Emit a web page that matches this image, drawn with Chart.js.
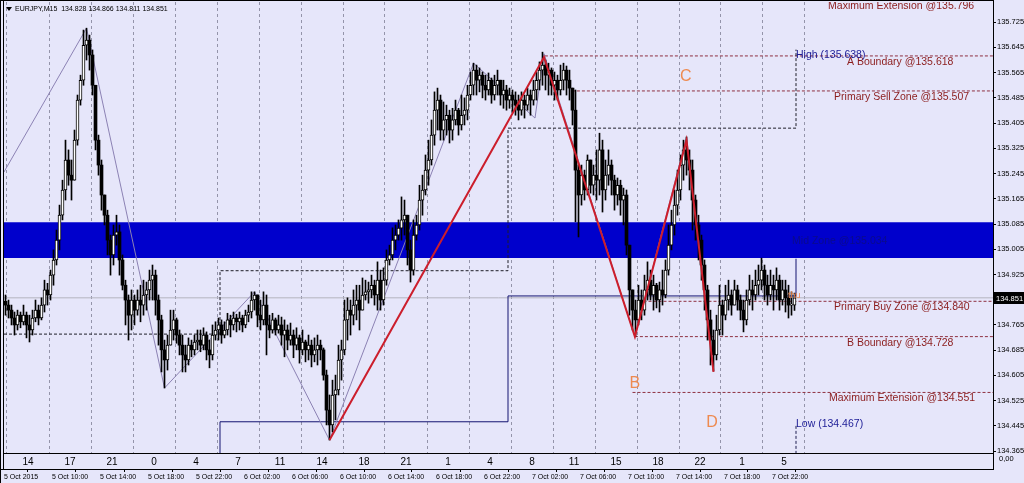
<!DOCTYPE html>
<html><head><meta charset="utf-8">
<script src="https://cdn.jsdelivr.net/npm/chart.js@4.4.0/dist/chart.umd.min.js"></script>
<style>html,body{margin:0;padding:0;background:#E6E6FA;overflow:hidden}canvas{display:block}</style>
</head><body><canvas id="c" width="1024" height="483" style="width:1024px;height:483px"></canvas>
<script>
// ---- data (EURJPY M15) ----
const symbolTitle = 'EURJPY,M15';
const firstOpen = 134.840;
const closes = [
134.828,134.812,134.787,134.765,134.796,134.775,134.796,134.765,134.749,134.787,134.812,134.787,
134.828,134.876,134.860,134.923,134.971,135.034,135.113,135.193,135.288,135.240,135.224,135.351,
135.478,135.541,135.652,135.668,135.621,135.525,135.351,135.272,135.177,135.113,135.034,134.987,
135.050,135.060,134.971,134.891,134.844,134.796,134.844,134.812,134.844,134.828,134.860,134.876,
134.907,134.923,134.844,134.781,134.686,134.654,134.701,134.749,134.781,134.733,134.701,134.670,
134.654,134.701,134.686,134.711,134.717,134.701,134.733,134.686,134.670,134.733,134.749,134.765,
134.733,134.749,134.781,134.765,134.787,134.775,134.787,134.765,134.796,134.806,134.844,134.860,
134.796,134.781,134.828,134.765,134.749,134.781,134.749,134.765,134.733,134.749,134.717,134.733,
134.701,134.724,134.686,134.711,134.686,134.701,134.670,134.686,134.701,134.686,134.606,134.495,
134.448,134.543,134.559,134.654,134.686,134.781,134.812,134.796,134.828,134.844,134.812,134.860,
134.870,134.876,134.891,134.860,134.907,134.844,134.907,134.971,134.987,135.034,135.050,135.072,
135.098,135.113,135.003,134.939,135.050,135.082,135.161,135.193,135.256,135.288,135.367,135.446,
135.478,135.383,135.415,135.430,135.383,135.415,135.446,135.399,135.430,135.446,135.494,135.525,
135.573,135.541,135.557,135.525,135.510,135.541,135.494,135.525,135.541,135.494,135.510,135.478,
135.494,135.478,135.462,135.446,135.478,135.462,135.494,135.478,135.510,135.541,135.573,135.589,
135.557,135.573,135.525,135.541,135.510,135.541,135.573,135.541,135.516,135.446,135.256,135.177,
135.240,135.193,135.288,135.208,135.240,135.224,135.320,135.193,135.240,135.272,135.224,135.177,
135.208,135.161,135.177,135.018,134.876,134.812,134.781,134.844,134.812,134.876,134.907,134.860,
134.891,134.844,134.876,134.860,134.939,135.018,135.082,135.145,135.193,135.272,135.320,135.288,
135.256,135.161,135.082,135.034,134.955,134.876,134.781,134.717,134.670,134.749,134.828,134.796,
134.844,134.860,134.828,134.876,134.844,134.812,134.781,134.844,134.876,134.860,134.891,134.907,
134.939,134.891,134.860,134.891,134.876,134.907,134.844,134.876,134.851,134.828,134.828,134.851];
const highs = [
134.860,134.844,134.828,134.806,134.812,134.806,134.828,134.806,134.796,134.812,134.844,134.828,
134.851,134.907,134.897,134.939,135.003,135.066,135.145,135.224,135.351,135.320,135.288,135.383,
135.494,135.557,135.700,135.706,135.684,135.637,135.525,135.367,135.288,135.177,135.129,135.050,
135.082,135.113,135.082,134.987,134.907,134.860,134.876,134.860,134.876,134.891,134.907,134.901,
134.939,134.955,134.939,134.860,134.796,134.717,134.733,134.812,134.812,134.787,134.749,134.733,
134.701,134.724,134.717,134.733,134.749,134.749,134.756,134.743,134.717,134.765,134.775,134.787,
134.781,134.775,134.802,134.796,134.806,134.799,134.806,134.796,134.812,134.828,134.870,134.870,
134.860,134.844,134.870,134.860,134.796,134.802,134.787,134.796,134.790,134.781,134.765,134.771,
134.749,134.756,134.733,134.749,134.717,134.733,134.717,134.724,134.733,134.717,134.692,134.622,
134.543,134.590,134.606,134.701,134.717,134.844,134.851,134.844,134.876,134.891,134.891,134.914,
134.907,134.901,134.923,134.907,134.965,134.939,134.946,135.003,135.018,135.073,135.082,135.098,
135.171,135.161,135.113,135.034,135.098,135.113,135.208,135.240,135.304,135.351,135.415,135.504,
135.516,135.494,135.472,135.462,135.446,135.452,135.478,135.452,135.494,135.485,135.525,135.567,
135.595,135.589,135.580,135.567,135.557,135.564,135.548,135.557,135.573,135.541,135.541,135.525,
135.516,135.510,135.504,135.494,135.504,135.494,135.516,135.510,135.541,135.567,135.599,135.630,
135.605,135.595,135.580,135.567,135.557,135.589,135.595,135.586,135.573,135.516,135.510,135.272,
135.272,135.256,135.304,135.288,135.272,135.320,135.373,135.351,135.288,135.320,135.288,135.240,
135.231,135.224,135.199,135.193,135.018,134.876,134.844,134.891,134.876,134.923,134.965,134.939,
134.923,134.897,134.901,134.939,134.971,135.082,135.129,135.193,135.256,135.304,135.351,135.361,
135.320,135.288,135.177,135.113,135.050,134.971,134.891,134.812,134.749,134.796,134.891,134.844,
134.891,134.907,134.876,134.907,134.891,134.860,134.844,134.876,134.923,134.907,134.939,134.955,
134.977,134.955,134.923,134.939,134.923,134.946,134.923,134.907,134.907,134.891,134.870,134.866];
const lows = [
134.796,134.787,134.765,134.733,134.749,134.756,134.765,134.724,134.711,134.733,134.775,134.765,
134.781,134.806,134.828,134.844,134.891,134.955,135.003,135.098,135.161,135.208,135.161,135.224,
135.335,135.462,135.525,135.605,135.573,135.494,135.320,135.240,135.129,135.082,134.987,134.923,
134.955,135.018,134.923,134.876,134.765,134.717,134.749,134.765,134.796,134.775,134.796,134.812,
134.844,134.844,134.796,134.701,134.616,134.565,134.622,134.701,134.717,134.707,134.670,134.616,
134.616,134.638,134.664,134.670,134.686,134.680,134.686,134.654,134.629,134.654,134.717,134.717,
134.707,134.724,134.733,134.727,134.749,134.743,134.749,134.743,134.756,134.775,134.787,134.812,
134.759,134.749,134.765,134.670,134.724,134.739,134.733,134.739,134.701,134.664,134.686,134.701,
134.661,134.686,134.644,134.670,134.648,134.654,134.632,134.648,134.638,134.654,134.590,134.448,
134.400,134.426,134.464,134.543,134.590,134.670,134.717,134.733,134.765,134.781,134.749,134.828,
134.844,134.834,134.851,134.828,134.812,134.812,134.828,134.891,134.955,134.971,135.003,135.034,
135.034,135.050,134.955,134.901,134.923,135.034,135.066,135.113,135.177,135.208,135.272,135.335,
135.383,135.351,135.351,135.367,135.342,135.351,135.399,135.367,135.383,135.399,135.415,135.478,
135.494,135.494,135.504,135.485,135.478,135.494,135.468,135.478,135.494,135.462,135.452,135.446,
135.452,135.440,135.430,135.415,135.430,135.421,135.446,135.430,135.462,135.478,135.510,135.525,
135.510,135.494,135.494,135.478,135.478,135.494,135.510,135.494,135.478,135.399,135.092,135.044,
135.145,135.161,135.177,135.183,135.177,135.161,135.177,135.123,135.161,135.208,135.177,135.129,
135.145,135.113,135.082,134.987,134.796,134.749,134.728,134.765,134.781,134.796,134.844,134.844,
134.812,134.819,134.806,134.828,134.851,134.923,135.003,135.050,135.113,135.161,135.224,135.240,
135.193,135.066,135.034,134.971,134.907,134.812,134.717,134.638,134.619,134.654,134.733,134.733,
134.781,134.812,134.796,134.828,134.812,134.781,134.743,134.765,134.828,134.812,134.844,134.860,
134.876,134.844,134.828,134.844,134.812,134.844,134.812,134.828,134.806,134.787,134.796,134.811];

const hourLabels = ['14','17','21','0','4','7','11','14','18','21','1','4','8','11','15','18','22','1','5'];
const dateLabels = ['5 Oct 2015','5 Oct 10:00','5 Oct 14:00','5 Oct 18:00','5 Oct 22:00','6 Oct 02:00','6 Oct 06:00',
  '6 Oct 10:00','6 Oct 14:00','6 Oct 18:00','6 Oct 22:00','7 Oct 02:00','7 Oct 06:00','7 Oct 10:00','7 Oct 14:00',
  '7 Oct 18:00','7 Oct 22:00'];
const priceTicks = [135.725,135.645,135.565,135.485,135.405,135.325,135.245,135.165,135.085,135.005,134.925,134.845,
  134.765,134.685,134.605,134.525,134.445,134.365];
const lastPrice = 134.851;

// supply/demand band
const bandTop = 135.091, bandBottom = 134.977;
const bandLabel = 'Mid Zone @135.034';

// harmonic levels
const zoneNames = ['Maximum Extension','A Boundary','Primary Sell Zone','Primary Buy Zone','B Boundary','Maximum Extension'];
const zoneValues = [135.796,135.618,135.507,134.840,134.728,134.551];
const zoneStartIdx = [180,179.8,188.8,211,209.8,209];
const zoneTextIdx = [274.2,280.5,276.2,276.2,280.5,274.5];

// zigzag swing points (bar index, price)
const zigIdx = [-0.5,27,53,83,108,156,176.5,179.5,209.8,227,236];
const zigPrice = [135.250,135.706,134.565,134.870,134.400,135.595,135.421,135.625,134.728,135.361,134.619];
// XABCD pattern line
const patIdx = [108,179.5,209.8,227,236];
const patPrice = [134.400,135.614,134.728,135.351,134.616];
const letterText = ['C','B','D'];
const letterIdx = [226.8,209.8,235.5];
const letterPrice = [135.554,134.578,134.454];

// channel steps
const upIdx = [-0.5,71.5,167.5,263.5];
const upPrice = [134.736,134.937,135.389,135.638];
const dnIdx = [71.5,71.5,167.5,263.5];
const dnPrice = [134.300,134.458,134.857,134.975];
const highValue = 135.638, lowValue = 134.467, hlIdx = 263.5;

// ---- build ----
const N = closes.length;
const opens = closes.map((c, i) => i === 0 ? firstOpen : closes[i - 1]);
const wick = [], bull = [], bear = [];
for (let i = 0; i < N; i++) {
  const o = opens[i], c = closes[i];
  const h = Math.max(highs[i], o, c), l = Math.min(lows[i], o, c);
  wick.push({x: i, y: [l, h]});
  if (c >= o) bull.push({x: i, y: [o, c]}); else bear.push({x: i, y: [c, o]});
}
const XMIN = -0.5, XMAX = -0.5 + 989 / 3;
const YMIN = 134.359, YMAX = 135.789;

const line = (data, color, width, dash, order, extra) => Object.assign({
  type: 'line', data, borderColor: color, borderWidth: width, borderDash: dash || [],
  pointRadius: 0, fill: false, tension: 0, order, xAxisID: 'x', yAxisID: 'y'
}, extra || {});

const datasets = [];
datasets.push(line([{x: XMIN, y: bandTop}, {x: XMAX, y: bandTop}], 'rgba(0,0,0,0)', 0, null, 100,
  {fill: {value: bandBottom}, backgroundColor: '#0000CC'}));
datasets.push(line([{x: XMIN, y: lastPrice}, {x: XMAX, y: lastPrice}], '#B4B4BE', 1, null, 90));
zoneValues.forEach((v, k) => {
  datasets.push(line([{x: zoneStartIdx[k], y: v}, {x: XMAX, y: v}], '#8E3040', 1, [3, 2], 80));
});
datasets.push(line(upIdx.map((x, k) => ({x, y: upPrice[k]})), '#1E1E28', 1, [3, 2], 70, {stepped: 'before'}));
datasets.push(line([{x: hlIdx, y: 134.445}, {x: hlIdx, y: 134.30}], '#1E1E50', 1, [3, 2], 70));
datasets.push(line(dnIdx.map((x, k) => ({x, y: dnPrice[k]})), '#141470', 1, null, 70, {stepped: 'before'}));
datasets.push(line(zigIdx.map((x, k) => ({x, y: zigPrice[k]})), '#8C82B4', 1, null, 60));
const barBase = {type: 'bar', grouped: false, xAxisID: 'x', yAxisID: 'y', borderSkipped: false};
datasets.push(Object.assign({}, barBase, {data: wick, barThickness: 1, backgroundColor: '#000', borderWidth: 0, order: 50}));
datasets.push(Object.assign({}, barBase, {data: bull, barThickness: 3, backgroundColor: '#FFFFFF', borderColor: '#000', borderWidth: 1, minBarLength: 1, order: 40}));
datasets.push(Object.assign({}, barBase, {data: bear, barThickness: 3, backgroundColor: '#000', borderWidth: 0, minBarLength: 1, order: 40}));
datasets.push(line(patIdx.map((x, k) => ({x, y: patPrice[k]})), '#CC1E2C', 2, null, 10));

const FONT = '"Liberation Sans", Arial, sans-serif';
const noPad = ax => { ax.paddingTop = 0; ax.paddingBottom = 0; ax.paddingLeft = 0; ax.paddingRight = 0; };

const overlay = {
  id: 'overlay',
  beforeDraw(chart) {
    const ctx = chart.ctx; ctx.save(); ctx.fillStyle = '#E6E6FA'; ctx.fillRect(0, 0, chart.width, chart.height); ctx.restore();
  },
  afterDatasetsDraw(chart) {
    const {ctx, chartArea: a} = chart; const x = chart.scales.x, y = chart.scales.y;
    ctx.save();
    ctx.beginPath(); ctx.rect(a.left, a.top, a.right - a.left, a.bottom - a.top); ctx.clip();
    ctx.textBaseline = 'middle'; ctx.textAlign = 'left';
    ctx.font = '10.5px ' + FONT; ctx.fillStyle = '#8B1C1C';
    zoneNames.forEach((n, k) => ctx.fillText(n + ' @' + zoneValues[k].toFixed(3), x.getPixelForValue(zoneTextIdx[k]), y.getPixelForValue(zoneValues[k]) + 6));
    ctx.font = '10.5px ' + FONT; ctx.fillStyle = '#1C1C96';
    ctx.fillText('High (' + highValue.toFixed(3) + ')', x.getPixelForValue(hlIdx), y.getPixelForValue(highValue) + 5);
    ctx.fillText('Low (' + lowValue.toFixed(3) + ')', x.getPixelForValue(hlIdx), y.getPixelForValue(lowValue) + 5);
    ctx.fillStyle = '#0A0A8C';
    ctx.fillText(bandLabel, x.getPixelForValue(262.2), y.getPixelForValue((bandTop + bandBottom) / 2) + 1);
    ctx.font = '16px ' + FONT; ctx.fillStyle = '#EE8A50'; ctx.textAlign = 'center';
    letterText.forEach((t, k) => ctx.fillText(t, x.getPixelForValue(letterIdx[k]), y.getPixelForValue(letterPrice[k])));
    ctx.font = '9px ' + FONT; ctx.textAlign = 'left';
    ctx.fillText('thu', x.getPixelForValue(260.8), y.getPixelForValue(134.857));
    ctx.restore();
  },
  afterDraw(chart) {
    const {ctx} = chart; const y = chart.scales.y;
    ctx.save();
    ctx.strokeStyle = '#000'; ctx.lineWidth = 1;
    ctx.beginPath();
    ctx.moveTo(0.5, 0); ctx.lineTo(0.5, 483);
    ctx.moveTo(3.5, 0); ctx.lineTo(3.5, 469);
    ctx.moveTo(0, 0.5); ctx.lineTo(994, 0.5);
    ctx.moveTo(993.5, 0); ctx.lineTo(993.5, 470);
    ctx.moveTo(3, 453.5); ctx.lineTo(994, 453.5);
    ctx.moveTo(0, 469.5); ctx.lineTo(994, 469.5);
    ctx.stroke();
    // current price box
    const py = Math.round(y.getPixelForValue(lastPrice));
    ctx.fillStyle = '#000'; ctx.fillRect(994, py - 6, 30, 12);
    ctx.fillStyle = '#FFF'; ctx.font = '7.5px ' + FONT; ctx.textBaseline = 'middle'; ctx.textAlign = 'left';
    ctx.fillText(lastPrice.toFixed(3), 996, py + 0.5);
    // title
    ctx.fillStyle = '#000';
    ctx.beginPath(); ctx.moveTo(6, 7); ctx.lineTo(12, 7); ctx.lineTo(9, 11); ctx.closePath(); ctx.fill();
    ctx.font = '7px ' + FONT;
    const o = opens[N - 1], h = Math.max(highs[N - 1], o, closes[N - 1]), l = Math.min(lows[N - 1], o, closes[N - 1]);
    ctx.fillText(symbolTitle + '  ' + o.toFixed(3) + ' ' + h.toFixed(3) + ' ' + l.toFixed(3) + ' ' + closes[N - 1].toFixed(3), 15, 9);
    ctx.font = '7.5px ' + FONT;
    ctx.fillText('0,00', 999, 459);
    ctx.restore();
  }
};

new Chart(document.getElementById('c'), {
  type: 'bar',
  data: {datasets},
  options: {
    responsive: false, animation: false, events: [],
    layout: {padding: {left: 4, top: 2, right: 0, bottom: 0}},
    plugins: {legend: {display: false}, tooltip: {enabled: false}},
    scales: {
      x: {
        type: 'linear', axis: 'x', position: 'bottom', weight: 1, min: XMIN, max: XMAX, offset: false,
        afterBuildTicks: ax => { ax.ticks = hourLabels.map((s, k) => ({value: 7.5 + 14 * k})); },
        afterFit: ax => { ax.height = 16; noPad(ax); },
        ticks: {autoSkip: false, maxRotation: 0, minRotation: 0, padding: 3, color: '#000',
          font: {family: FONT, size: 10}, callback: (v, i) => hourLabels[i]},
        grid: {display: true, drawOnChartArea: true, drawTicks: false, color: '#9494AA', lineWidth: 1},
        border: {display: false, dash: [3, 3]}
      },
      x2: {
        type: 'linear', axis: 'x', position: 'bottom', weight: 2, min: XMIN, max: XMAX, offset: false,
        afterBuildTicks: ax => { ax.ticks = dateLabels.map((s, k) => ({value: -0.5 + 16 * k})); },
        afterFit: ax => { ax.height = 14; noPad(ax); },
        ticks: {autoSkip: false, maxRotation: 0, minRotation: 0, padding: 1, align: 'start', color: '#000',
          font: {family: FONT, size: 7}, callback: (v, i) => dateLabels[i]},
        grid: {display: true, drawOnChartArea: false, drawTicks: true, tickLength: 3, tickColor: '#000', color: '#000'},
        border: {display: false}
      },
      y: {
        type: 'linear', position: 'right', min: YMIN, max: YMAX,
        afterBuildTicks: ax => { ax.ticks = priceTicks.map(v => ({value: v})); },
        afterFit: ax => { ax.width = 31; noPad(ax); },
        ticks: {autoSkip: false, padding: 1, color: '#000', font: {family: FONT, size: 7.5}, callback: v => v.toFixed(3)},
        grid: {display: true, drawOnChartArea: false, drawTicks: true, tickLength: 3, tickColor: '#000', color: '#000'},
        border: {display: false}
      }
    }
  },
  plugins: [overlay]
});
</script></body></html>
